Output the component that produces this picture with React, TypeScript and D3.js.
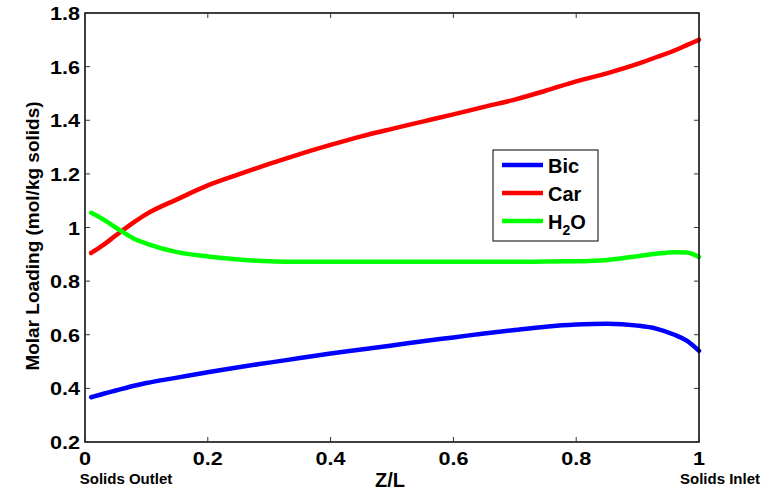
import React from "react";
import * as d3 from "d3";

const zValues = [0.01, 0.03, 0.05, 0.08, 0.1, 0.15, 0.2, 0.25, 0.3, 0.35, 0.4, 0.45, 0.5, 0.55, 0.6, 0.65, 0.7, 0.75, 0.8, 0.85, 0.9, 0.93, 0.96, 0.98, 1.0];
const bicValues = [0.367, 0.38, 0.392, 0.41, 0.42, 0.44, 0.46, 0.479, 0.496, 0.513, 0.53, 0.545, 0.56, 0.576, 0.59, 0.605, 0.618, 0.63, 0.638, 0.641, 0.634, 0.623, 0.6, 0.578, 0.54];
const carValues = [0.905, 0.935, 0.97, 1.02, 1.05, 1.105, 1.157, 1.198, 1.237, 1.274, 1.308, 1.34, 1.368, 1.395, 1.422, 1.45, 1.477, 1.51, 1.545, 1.575, 1.61, 1.635, 1.66, 1.68, 1.70];
const h2oValues = [1.055, 1.03, 1.0, 0.958, 0.94, 0.908, 0.892, 0.881, 0.874, 0.872, 0.872, 0.872, 0.872, 0.872, 0.872, 0.872, 0.872, 0.873, 0.874, 0.879, 0.893, 0.902, 0.908, 0.907, 0.89];
const xTicks = [0, 0.2, 0.4, 0.6, 0.8, 1];
const yTicks = [0.2, 0.4, 0.6, 0.8, 1, 1.2, 1.4, 1.6, 1.8];
const seriesNames = ["Bic", "Car", "H2O"];
const seriesColors = ["#0000ff", "#ff0000", "#00ff00"];

export default function App() {
  const W = 777, H = 490;
  const L = 85, R = 699, T = 13, B = 442;
  const x = d3.scaleLinear().domain([0, 1]).range([L, R]);
  const y = d3.scaleLinear().domain([0.2, 1.8]).range([B, T]);
  const line = d3.line<[number, number]>().x(d => x(d[0])).y(d => y(d[1])).curve(d3.curveMonotoneX);
  const series = [bicValues, carValues, h2oValues].map(vals => zValues.map((z, i) => [z, vals[i]] as [number, number]));
  const font = "Liberation Sans, Arial, sans-serif";
  const tick = 5;
  const legX = 493, legY = 150, legW = 105, legH = 91;
  const rowY = [165, 193, 221];
  const sx = 1.2;

  return (
    <svg width={W} height={H} style={{ position: "absolute", left: 0, top: 0, background: "#fff" }} fontFamily={font}>
      <rect x={0} y={0} width={W} height={H} fill="#fff" />
      {series.map((s, i) => (
        <path key={i} d={line(s) || ""} fill="none" stroke={seriesColors[i]} strokeWidth={4.5} strokeLinejoin="round" strokeLinecap="round" />
      ))}
      <rect x={L} y={T} width={R - L} height={B - T} fill="none" stroke="#000" strokeWidth={1.5} />
      {xTicks.map(t => (
        <g key={"x" + t}>
          <line x1={x(t)} x2={x(t)} y1={B} y2={B - tick} stroke="#333" strokeWidth={1} />
          <line x1={x(t)} x2={x(t)} y1={T} y2={T + tick} stroke="#333" strokeWidth={1} />
          <text transform={`translate(${x(t)},465) scale(${sx},1)`} textAnchor="middle" fontSize={18} fontWeight="bold">{String(t)}</text>
        </g>
      ))}
      {yTicks.map(t => (
        <g key={"y" + t}>
          <line x1={L} x2={L + tick} y1={y(t)} y2={y(t)} stroke="#333" strokeWidth={1} />
          <line x1={R} x2={R - tick} y1={y(t)} y2={y(t)} stroke="#333" strokeWidth={1} />
          <text transform={`translate(80,${y(t) + 7}) scale(${sx},1)`} textAnchor="end" fontSize={18} fontWeight="bold">{String(t)}</text>
        </g>
      ))}
      <text x={390} y={487} textAnchor="middle" fontSize={20} fontWeight="bold">Z/L</text>
      <text x={126} y={484} textAnchor="middle" fontSize={15} fontWeight="bold">Solids Outlet</text>
      <text x={720} y={484} textAnchor="middle" fontSize={15} fontWeight="bold">Solids Inlet</text>
      <text transform={`translate(38.5,236) rotate(-90)`} textAnchor="middle" fontSize={19} fontWeight="bold">Molar Loading (mol/kg solids)</text>
      <rect x={legX} y={legY} width={legW} height={legH} fill="#fff" stroke="#000" strokeWidth={1} />
      {seriesNames.map((n, i) => (
        <g key={n}>
          <line x1={502} x2={543} y1={rowY[i]} y2={rowY[i]} stroke={seriesColors[i]} strokeWidth={4.5} />
          {n === "H2O" ? (
            <text x={548} y={rowY[i] + 8} fontSize={20} fontWeight="bold">H<tspan fontSize={14} dy={6}>2</tspan><tspan dy={-6}>O</tspan></text>
          ) : (
            <text x={548} y={rowY[i] + 8} fontSize={20} fontWeight="bold">{n}</text>
          )}
        </g>
      ))}
    </svg>
  );
}
